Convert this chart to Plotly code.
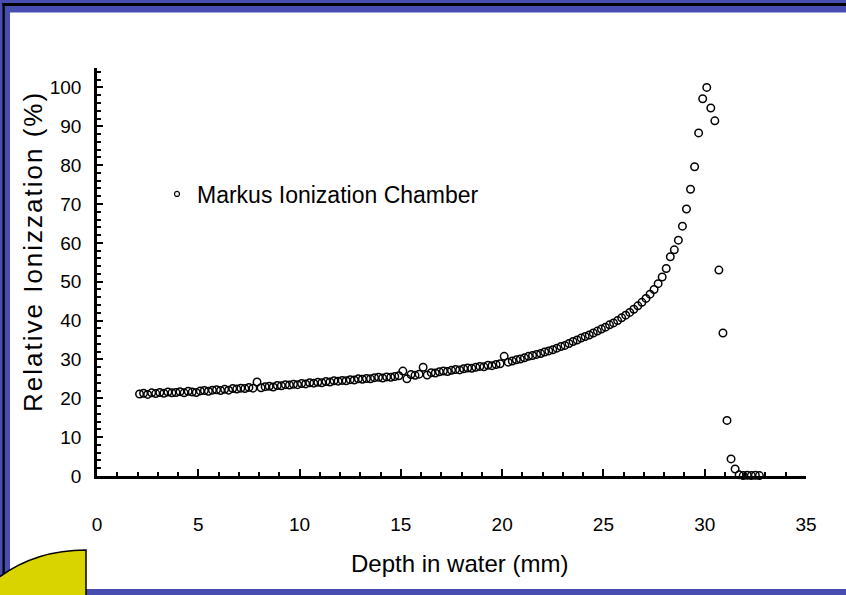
import plotly.graph_objects as go

# ---- data ----
depth_mm = [
    2.1, 2.3, 2.5, 2.7, 2.9, 3.1, 3.3, 3.5, 3.7, 3.9,
    4.1, 4.3, 4.5, 4.7, 4.9, 5.1, 5.3, 5.5, 5.7, 5.9,
    6.1, 6.3, 6.5, 6.7, 6.9, 7.1, 7.3, 7.5, 7.7, 7.9,
    8.1, 8.3, 8.5, 8.7, 8.9, 9.1, 9.3, 9.5, 9.7, 9.9,
    10.1, 10.3, 10.5, 10.7, 10.9, 11.1, 11.3, 11.5, 11.7, 11.9,
    12.1, 12.3, 12.5, 12.7, 12.9, 13.1, 13.3, 13.5, 13.7, 13.9,
    14.1, 14.3, 14.5, 14.7, 14.9, 15.1, 15.3, 15.5, 15.7, 15.9,
    16.1, 16.3, 16.5, 16.7, 16.9, 17.1, 17.3, 17.5, 17.7, 17.9,
    18.1, 18.3, 18.5, 18.7, 18.9, 19.1, 19.3, 19.5, 19.7, 19.9,
    20.1, 20.3, 20.5, 20.7, 20.9, 21.1, 21.3, 21.5, 21.7, 21.9,
    22.1, 22.3, 22.5, 22.7, 22.9, 23.1, 23.3, 23.5, 23.7, 23.9,
    24.1, 24.3, 24.5, 24.7, 24.9, 25.1, 25.3, 25.5, 25.7, 25.9,
    26.1, 26.3, 26.5, 26.7, 26.9, 27.1, 27.3, 27.5, 27.7, 27.9,
    28.1, 28.3, 28.5, 28.7, 28.9, 29.1, 29.3, 29.5, 29.7, 29.9,
    30.1, 30.3, 30.5, 30.7, 30.9, 31.1, 31.3, 31.5, 31.7, 31.9,
    32.1, 32.3, 32.5, 32.7,
]
ionization_pct = [
    21.1, 21.3, 21.0, 21.4, 21.2, 21.5, 21.3, 21.6, 21.4, 21.5,
    21.7, 21.4, 21.8, 21.6, 21.5, 21.9, 22.0, 21.8, 22.1, 22.2,
    22.0, 22.3, 22.1, 22.5, 22.4, 22.6, 22.5, 22.8, 22.6, 24.2,
    22.7, 23.0, 23.1, 22.9, 23.3, 23.2, 23.5, 23.4, 23.6, 23.5,
    23.8, 23.7, 24.0, 23.9, 24.1, 24.0, 24.3, 24.2, 24.5, 24.4,
    24.6, 24.5, 24.8, 24.7, 25.0, 24.9, 25.1, 25.0, 25.3, 25.4,
    25.2, 25.5, 25.4, 25.6, 25.8, 27.0, 25.0, 26.1, 25.9, 26.2,
    28.0, 26.0, 26.6, 26.5, 26.8, 27.0, 26.9, 27.2, 27.4, 27.3,
    27.6, 27.8, 27.7, 28.0, 28.2, 28.1, 28.5, 28.4, 28.7, 28.9,
    30.8, 29.3, 29.6, 29.9, 30.1, 30.4, 30.8, 31.0, 31.3, 31.5,
    31.9, 32.2, 32.5, 32.9, 33.3, 33.6, 34.1, 34.6, 35.0, 35.5,
    35.9, 36.3, 36.8, 37.3, 37.8, 38.3, 38.9, 39.4, 40.0, 40.7,
    41.4, 42.1, 42.9, 43.8, 44.7, 45.7, 46.8, 48.0, 49.5, 51.2,
    53.4, 56.4, 58.2, 60.7, 64.3, 68.7, 73.8, 79.6, 88.3, 97.1,
    100.0, 94.7, 91.4, 53.0, 36.8, 14.3, 4.4, 1.8, 0.3, 0.1,
    0.2, 0.1, 0.2, 0.1,
]
series_name = "Markus Ionization Chamber"
x_title = "Depth in water (mm)"
y_title = "Relative Ionizzation (%)"
x_ticks = [0, 5, 10, 15, 20, 25, 30, 35]
y_ticks = [0, 10, 20, 30, 40, 50, 60, 70, 80, 90, 100]

# ---- layout geometry (pixels) ----
W, H = 846, 595
L, R, T, B = 97, 40, 68, 119
PW, PH = W - L - R, H - T - B


def px(p):
    return (p - L) / PW


def py(p):
    return (H - B - p) / PH


FONT = "Liberation Sans, Arial, sans-serif"
BLUE = "#474DB1"

fig = go.Figure()
fig.add_trace(go.Scatter(
    x=depth_mm, y=ionization_pct, mode="markers", showlegend=False,
    cliponaxis=False,
    marker=dict(symbol="circle-open", size=7.5, color="black",
                line=dict(color="black", width=1.5)),
))
fig.add_trace(go.Scatter(
    x=[None], y=[None], mode="markers", name=series_name, showlegend=True,
    marker=dict(symbol="circle-open", size=5, color="black",
                line=dict(color="black", width=1.2)),
))

shapes = [
    # left blue band
    dict(type="rect", xref="paper", yref="paper", x0=px(0), x1=px(10), y0=py(0), y1=py(H),
         fillcolor=BLUE, line=dict(width=0), layer="above"),
    # top blue band
    dict(type="rect", xref="paper", yref="paper", x0=px(0), x1=px(W), y0=py(0), y1=py(12.5),
         fillcolor=BLUE, line=dict(width=0), layer="above"),
    # black top line
    dict(type="rect", xref="paper", yref="paper", x0=px(2.5), x1=px(W), y0=py(3), y1=py(6),
         fillcolor="black", line=dict(width=0), layer="above"),
    # black left line
    dict(type="rect", xref="paper", yref="paper", x0=px(2.5), x1=px(4.8), y0=py(3), y1=py(H),
         fillcolor="black", line=dict(width=0), layer="above"),
    # bottom blue line
    dict(type="rect", xref="paper", yref="paper", x0=px(86), x1=px(W), y0=py(589), y1=py(H),
         fillcolor=BLUE, line=dict(width=0), layer="above"),
]
# yellow quarter shape bottom-left
path = (f"M {px(-2)},{py(578)} "
        f"C {px(22)},{py(560)} {px(50)},{py(550)} {px(86)},{py(550)} "
        f"L {px(86)},{py(H + 2)} L {px(-2)},{py(H + 2)} Z")
shapes.append(dict(type="path", xref="paper", yref="paper", path=path,
                   fillcolor="#D9D300", line=dict(color="black", width=1.5), layer="above"))

annotations = [
    dict(text=x_title, xref="paper", yref="paper", x=px(459), y=py(563),
         xanchor="center", yanchor="middle", showarrow=False,
         font=dict(family=FONT, size=24, color="black")),
    dict(text=f'<span style="letter-spacing:2px">{y_title}</span>',
         xref="paper", yref="paper", x=px(33), y=py(252),
         xanchor="center", yanchor="middle", showarrow=False, textangle=-90,
         font=dict(family=FONT, size=26, color="black")),
]

fig.update_layout(
    width=W, height=H,
    margin=dict(l=L, r=R, t=T, b=B, pad=0),
    paper_bgcolor="white", plot_bgcolor="white",
    font=dict(family=FONT, color="black", size=19),
    shapes=shapes, annotations=annotations,
    showlegend=True,
    legend=dict(x=px(157), y=py(194), xanchor="left", yanchor="middle",
                bgcolor="rgba(0,0,0,0)", borderwidth=0,
                font=dict(family=FONT, size=23, color="black")),
    xaxis=dict(range=[0, 35], tickvals=x_ticks, ticks="inside", ticklen=7, tickwidth=2,
               tickcolor="black", showline=True, linecolor="black", linewidth=2.5,
               showgrid=False, zeroline=False, ticklabelstandoff=29,
               tickfont=dict(family=FONT, size=19, color="black"),
               minor=dict(dtick=1, ticks="inside", ticklen=4, tickwidth=2, tickcolor="black",
                          showgrid=False)),
    yaxis=dict(range=[0, 105], tickvals=y_ticks, ticks="inside", ticklen=6, tickwidth=2,
               tickcolor="black", showline=True, linecolor="black", linewidth=2.5,
               showgrid=False, zeroline=False, ticklabelstandoff=9,
               tickfont=dict(family=FONT, size=19, color="black"),
               minor=dict(dtick=2, ticks="inside", ticklen=4, tickwidth=2, tickcolor="black",
                          showgrid=False)),
)

fig.write_html("out.html")
